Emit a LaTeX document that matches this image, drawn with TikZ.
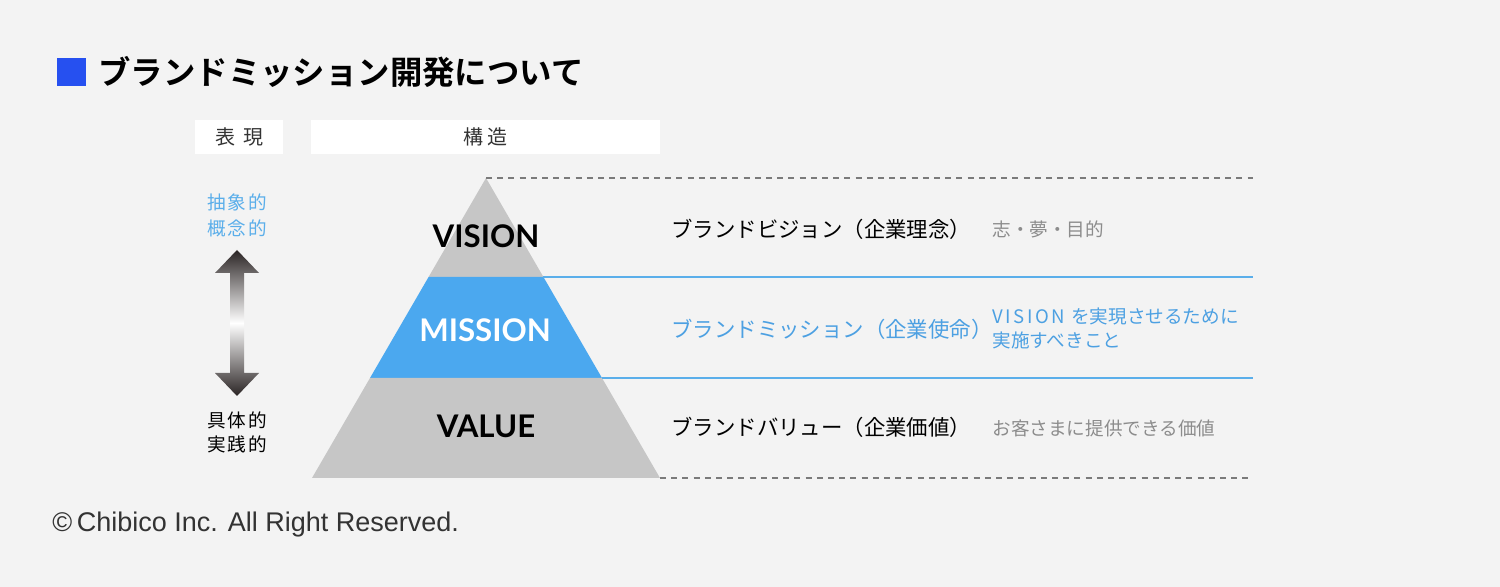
\documentclass[tikz,border=0pt]{standalone}
\usepackage{fontspec}
\newfontfamily\jp{Noto Sans CJK JP}[BoldFont={Noto Sans CJK JP Bold}]
\newfontfamily\lato{Lato}[BoldFont={Lato Bold}]
\newfontfamily\helv{Liberation Sans}
\definecolor{bg}{HTML}{F3F3F3}
\definecolor{sqblue}{HTML}{2650F0}
\definecolor{pgray}{HTML}{C6C6C6}
\definecolor{pblue}{HTML}{4BA8EF}
\definecolor{tblue}{HTML}{4CA0E2}
\definecolor{lblue}{HTML}{5AAEEA}
\definecolor{tgray}{HTML}{8C8C8C}
\definecolor{dgray}{HTML}{7A7A7A}
\definecolor{adark}{HTML}{2A2424}
\begin{document}
\begin{tikzpicture}[x=0.5pt,y=-0.5pt,
  txt/.style={inner sep=0pt,anchor=base west},
  lvl/.style={inner sep=0pt,anchor=base,font=\lato\bfseries\fontsize{15.6}{18}\selectfont},
  main/.style={txt,font=\jp\fontsize{10.7}{12}\selectfont},
  sub/.style={txt,font=\jp\fontsize{9.3}{11}\selectfont,text=tgray},
  side/.style={txt,font=\jp\fontsize{9.3}{11}\selectfont},
  hdr/.style={fill=white,inner sep=0pt},
  blueline/.style={draw=lblue,line width=1pt},
  dline/.style={draw=dgray,line width=0.9pt,dash pattern=on 3pt off 2.6pt}]
\useasboundingbox (0,0) rectangle (1500,587);
\fill[bg] (0,0) rectangle (1500,587);
% title
\fill[sqblue] (57,58) rectangle (86,86);
\node[txt,font=\jp\bfseries\fontsize{16.2}{18}\selectfont] (title) at (98,84.5) {ブランドミッション開発について};
% headers
\node[hdr,minimum width=44pt,minimum height=17pt] (h1) at (239,137) {};
\node[font=\jp\fontsize{10}{12}\selectfont,text=black!80,inner sep=0pt] at (h1) {表\hspace{4pt}現};
\node[hdr,minimum width=174.5pt,minimum height=17pt] (h2) at (485.5,137) {};
\node[font=\jp\fontsize{10}{12}\selectfont,text=black!80,inner sep=0pt] at (h2) {構\hspace{2pt}造};
% pyramid
\coordinate (apex) at (486,178);
\coordinate (vl) at (428.58,277);
\coordinate (vr) at (543.42,277);
\coordinate (ml) at (370,378);
\coordinate (mr) at (602,378);
\coordinate (bl) at (312,478);
\coordinate (br) at (660,478);
\fill[pgray] (apex) -- (vr) -- (vl) -- cycle;
\fill[pblue] (vl) -- (vr) -- (mr) -- (ml) -- cycle;
\fill[pgray] (ml) -- (mr) -- (br) -- (bl) -- cycle;
\coordinate (e1) at (1253,178);
\coordinate (e2) at (1253,277);
\coordinate (e3) at (1253,378);
\coordinate (e4) at (1253,478);
\draw[dline] (apex) -- (e1);
\draw[dline] (br) -- (e4);
\draw[blueline] (vr) -- (e2);
\draw[blueline] (mr) -- (e3);
\node[lvl] (vision) at (486,248) {VISION};
\node[lvl,text=white] (mission) at (485,342) {MISSION};
\node[lvl] (value) at (486,438) {VALUE};
% right texts
\node[main] (t1) at (671,238) {ブランドビジョン（企業理念）};
\node[main,text=tblue] (t2) at (671,338) {ブランドミッション（企業使命）};
\node[main] (t3) at (671,436) {ブランドバリュー（企業価値）};
\node[sub] (s1) at (992,237) {志・夢・目的};
\node[sub,text=tblue] (s2a) at (992,324) {{\addfontfeature{LetterSpace=14}VISION}\hspace{3pt}を実現させるために};
\node[sub,text=tblue] (s2b) at (992,348) {実施すべきこと};
\node[sub] (s3) at (992,436) {お客さまに提供できる価値};
% left side
\node[side,text=lblue] (a1) at (207,210) {抽\hspace{1pt}象\hspace{1pt}的};
\node[side,text=lblue] (a2) at (207,236) {概\hspace{1pt}念\hspace{1pt}的};
\node[side] (b1) at (207,428) {具\hspace{1pt}体\hspace{1pt}的};
\node[side] (b2) at (207,452) {実\hspace{1pt}践\hspace{1pt}的};
\shade[top color=adark,bottom color=adark,middle color=white]
  (237,250) -- (259,273) -- (244,273) -- (244,373) -- (259,373) -- (237,396)
  -- (215,373) -- (230,373) -- (230,273) -- (215,273) -- cycle;
% copyright
\node[txt,font=\helv\fontsize{13.5}{15}\selectfont,text=black!80] (copy) at (52,531) {©\,Chibico Inc. All Right Reserved.};
\end{tikzpicture}
\end{document}
